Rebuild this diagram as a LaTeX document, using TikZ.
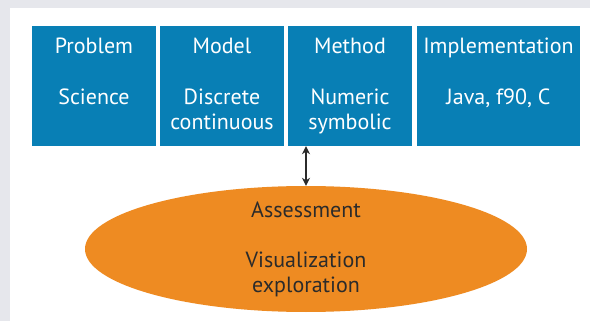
\documentclass[tikz,border=0pt]{standalone}
\usepackage{fontspec}
\setmainfont{PT Sans}
\usetikzlibrary{arrows.meta, positioning, shapes.geometric}
\definecolor{tileblue}{RGB}{8,127,181}
\definecolor{bloborange}{RGB}{238,139,34}
\definecolor{framegray}{RGB}{230,231,236}
\definecolor{darktext}{RGB}{43,43,43}

\begin{document}
\begin{tikzpicture}[x=1pt, y=-1pt,
    tile/.style={fill=tileblue, minimum height=120pt, inner sep=0pt},
    tiletext/.style={white, anchor=base, font=\fontsize{22}{26}\selectfont},
    blob/.style={ellipse, fill=bloborange, minimum width=442pt, minimum height=126pt, inner sep=0pt},
    blobtext/.style={darktext, anchor=base, font=\fontsize{22}{26}\selectfont}]
    % Define rows (baselines)
    \def\headrow{54}
    \def\bodyrow{105}
    \def\nextrow{130}

    % Frame
    \useasboundingbox (0,0) rectangle (590,321);
    \fill[framegray] (0,0) rectangle (590,321);
    \fill[white] (10,8) rectangle (590,321);

    % The four tiles
    \node[tile, minimum width=124pt] (problem) at (94,86) {};
    \node[tile, minimum width=124pt] (model) at (222,86) {};
    \node[tile, minimum width=124pt] (method) at (350,86) {};
    \node[tile, minimum width=163pt] (impl) at (498.5,86) {};

    % Tile labels
    \node[tiletext] (problemhead) at (94,\headrow) {Problem};
    \node[tiletext] (problembody) at (94,\bodyrow) {Science};
    \node[tiletext] (modelhead) at (222,\headrow) {Model};
    \node[tiletext] (modelbody) at (222,\bodyrow) {Discrete};
    \node[tiletext] (modelbody2) at (222,\nextrow) {continuous};
    \node[tiletext] (methodhead) at (350,\headrow) {Method};
    \node[tiletext] (methodbody) at (350,\bodyrow) {Numeric};
    \node[tiletext] (methodbody2) at (350,\nextrow) {symbolic};
    \node[tiletext] (implhead) at (498.5,\headrow) {Implementation};
    \node[tiletext] (implbody) at (498.5,\bodyrow) {Java, f90, C};

    % Assessment ellipse
    \node[blob] (assess) at (306,249) {};
    \node[blobtext] (assesshead) at (306,217) {Assessment};
    \node[blobtext] (assessbody) at (306,267) {Visualization};
    \node[blobtext] (assessbody2) at (306,292) {exploration};

    % Link between tiles and ellipse
    \draw[{Stealth[length=8pt,width=8pt]}-{Stealth[length=8pt,width=8pt]}, darktext, line width=1.2pt]
        (assess.north) -- (assess.north |- method.south);
\end{tikzpicture}
\end{document}
